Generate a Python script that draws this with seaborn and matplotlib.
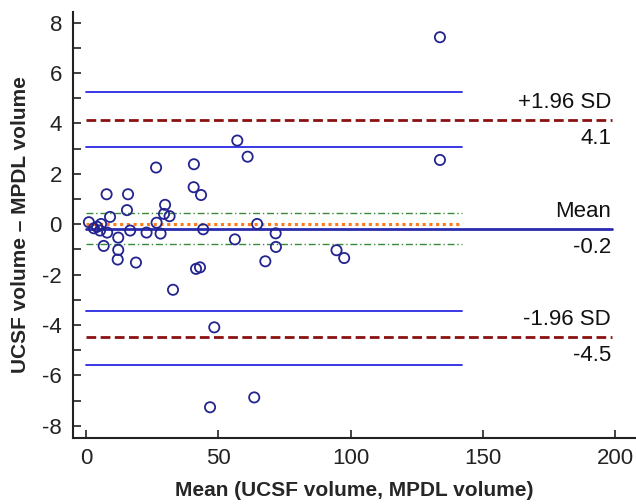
import matplotlib
matplotlib.use("Agg")
import matplotlib.pyplot as plt
import seaborn as sns
import numpy as np
import pandas as pd

# ---- data ----
mean_vals = [1.1, 3.0, 5.3, 5.7, 7.8, 6.7, 8.0, 9.1, 12.2, 12.2, 12.0, 15.9, 15.5,
             16.7, 18.9, 22.9, 26.5, 26.7, 28.2, 29.9, 29.5, 31.6, 32.9, 40.8, 40.7,
             43.5, 44.3, 41.6, 43.1, 57.2, 61.1, 64.7, 56.3, 71.7, 71.8, 67.8, 94.7,
             97.6, 48.5, 46.9, 63.6, 133.8, 133.8, 4.2]
diff_vals = [0.08, -0.16, -0.25, 0.01, 1.19, -0.86, -0.33, 0.29, -0.53, -1.02, -1.40,
             1.19, 0.56, -0.25, -1.52, -0.33, 2.25, 0.06, -0.37, 0.77, 0.41, 0.32,
             -2.60, 2.38, 1.47, 1.16, -0.20, -1.77, -1.71, 3.32, 2.68, 0.01, -0.60,
             -0.36, -0.90, -1.47, -1.03, -1.34, -4.09, -7.26, -6.87, 7.42, 2.55, -0.10]

mean_diff = -0.19
upper_loa = 4.13
lower_loa = -4.47
mean_ci = [0.45, -0.78]
upper_ci = [5.25, 3.07]
lower_ci = [-3.44, -5.58]
zero_line = 0.0
line_end = 199
ci_end = 142

x_ticks = [0, 50, 100, 150, 200]
y_ticks = [-8, -6, -4, -2, 0, 2, 4, 6, 8]
x_label = "Mean (UCSF volume, MPDL volume)"
y_label = "UCSF volume – MPDL volume"

df = pd.DataFrame({"mean": mean_vals, "diff": diff_vals})

sns.set_style("ticks")
plt.rcParams["font.family"] = ["Liberation Sans", "DejaVu Sans"]
plt.rcParams["axes.unicode_minus"] = False

fig = plt.figure(figsize=(6.36, 5.04), dpi=100)
W, H = 636, 504
ax = fig.add_axes([73 / W, (H - 438) / H, (636 - 73) / W, (438 - 12) / H])

# CI lines (short)
for v in upper_ci + lower_ci:
    ax.plot([0, ci_end], [v, v], color="#2a2ae6", lw=1.3, zorder=2)
for v in mean_ci:
    ax.plot([0, ci_end], [v, v], color="#3a8a3a", lw=1.0, ls=(0, (5, 2, 1, 2)), zorder=2)
ax.plot([0, ci_end], [zero_line, zero_line], color="#ff7a1a", lw=2.2, ls=(0, (1, 1.2)), zorder=2)

# mean and limits of agreement
ax.plot([0, line_end], [mean_diff, mean_diff], color="#2a2ab0", lw=2.0, zorder=3)
for v in (upper_loa, lower_loa):
    ax.plot([0, line_end], [v, v], color="#8b1010", lw=2.0, ls=(0, (3.5, 1.6)), zorder=3)

sns.scatterplot(data=df, x="mean", y="diff", ax=ax, marker="o", s=54,
                facecolor="none", edgecolor="#24248f", linewidth=1.3, zorder=4)

lab_fs = 16
def label(y, top, bottom):
    ax.annotate(top, (line_end, y), xytext=(-1, 5), textcoords="offset points",
                ha="right", va="bottom", fontsize=lab_fs, color="#111111")
    ax.annotate(bottom, (line_end, y), xytext=(-1, -6), textcoords="offset points",
                ha="right", va="top", fontsize=lab_fs, color="#111111")

label(upper_loa, "+1.96 SD", f"{upper_loa:.1f}")
label(mean_diff, "Mean", f"{mean_diff:.1f}")
label(lower_loa, "-1.96 SD", f"{lower_loa:.1f}")

ax.set_xlim(-4.9, 207.9)
ax.set_ylim(-8.48, 8.42)
ax.set_xticks(x_ticks)
ax.set_yticks(y_ticks)
ax.set_yticks(np.arange(-7, 8, 2), minor=True)
ax.tick_params(axis="both", which="both", direction="in", length=6, width=1.2,
               labelsize=16, colors="#222222")
ax.tick_params(axis="x", pad=7)
ax.tick_params(axis="y", pad=8)
ax.set_xlabel(x_label, fontsize=15, fontweight="bold", labelpad=9)
ax.set_ylabel(y_label, fontsize=15, fontweight="bold", labelpad=9)
for s in ("top", "right"):
    ax.spines[s].set_visible(False)
for s in ("left", "bottom"):
    ax.spines[s].set_linewidth(1.5)
    ax.spines[s].set_color("#222222")

fig.savefig("out.png", dpi=100)
